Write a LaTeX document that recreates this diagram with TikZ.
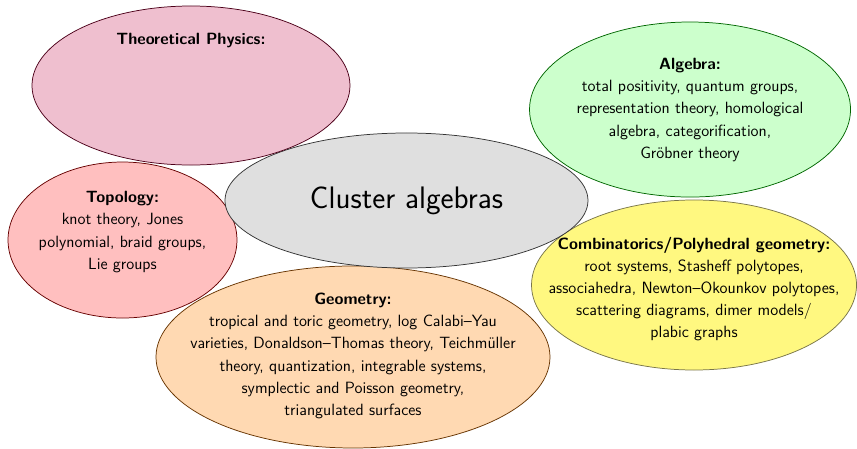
\documentclass[tikz,border=0pt]{standalone}
\usetikzlibrary{shapes.geometric,positioning}

\begin{document}
\begin{tikzpicture}[
  blob/.style args={#1/#2}{ellipse, draw=#1!40!black, fill=#1!#2, line width=0.5pt, inner sep=0pt},
  topic/.style={font=\sffamily\fontsize{11.0}{15.0}\selectfont, align=center, inner sep=0pt}
]
  \useasboundingbox (0,0) rectangle (20.345,-10.659);

  % outer fields
  \node[blob=orange/30, minimum width=9.354cm, minimum height=4.321cm] (geo) at (8.380,-8.475) {};
  \node[topic] (geotxt) at (8.380,-8.451) {\textbf{Geometry:}\\
    tropical and toric geometry, log Calabi--Yau\\
    varieties, Donaldson--Thomas theory, Teichm\"uller\\
    theory, quantization, integrable systems,\\
    symplectic and Poisson geometry,\\
    triangulated surfaces};

  \node[blob=red/25, minimum width=5.436cm, minimum height=3.703cm] (top) at (2.908,-5.698) {};
  \node[topic] (toptxt) at (2.908,-5.508) {\textbf{Topology:}\\
    knot theory, Jones\\
    polynomial, braid groups,\\
    Lie groups};

  \node[blob=green/20, minimum width=7.621cm, minimum height=4.155cm] (alg) at (16.381,-2.600) {};
  \node[topic] (algtxt) at (16.381,-2.610) {\textbf{Algebra:}\\
    total positivity, quantum groups,\\
    representation theory, homological\\
    algebra, categorification,\\
    Gr\"obner theory};

  \node[blob=yellow/50, minimum width=7.716cm, minimum height=4.036cm] (comb) at (16.476,-6.766) {};
  \node[topic] (combtxt) at (16.476,-6.861) {\textbf{Combinatorics/Polyhedral geometry:}\\
    root systems, Stasheff polytopes,\\
    associahedra, Newton--Okounkov polytopes,\\
    scattering diagrams, dimer models/\\
    plabic graphs};

  % centre
  \node[blob=gray/25, minimum width=8.618cm, minimum height=3.205cm,
        font=\sffamily\fontsize{21}{25}\selectfont] (clu) at (9.650,-4.760) {Cluster algebras};

  \node[blob=purple/25, minimum width=7.549cm, minimum height=3.775cm] (phys) at (4.534,-2.030) {};
  \node[topic] (physlbl) at (4.534,-0.973) {\textbf{Theoretical Physics:}};
\end{tikzpicture}
\end{document}
